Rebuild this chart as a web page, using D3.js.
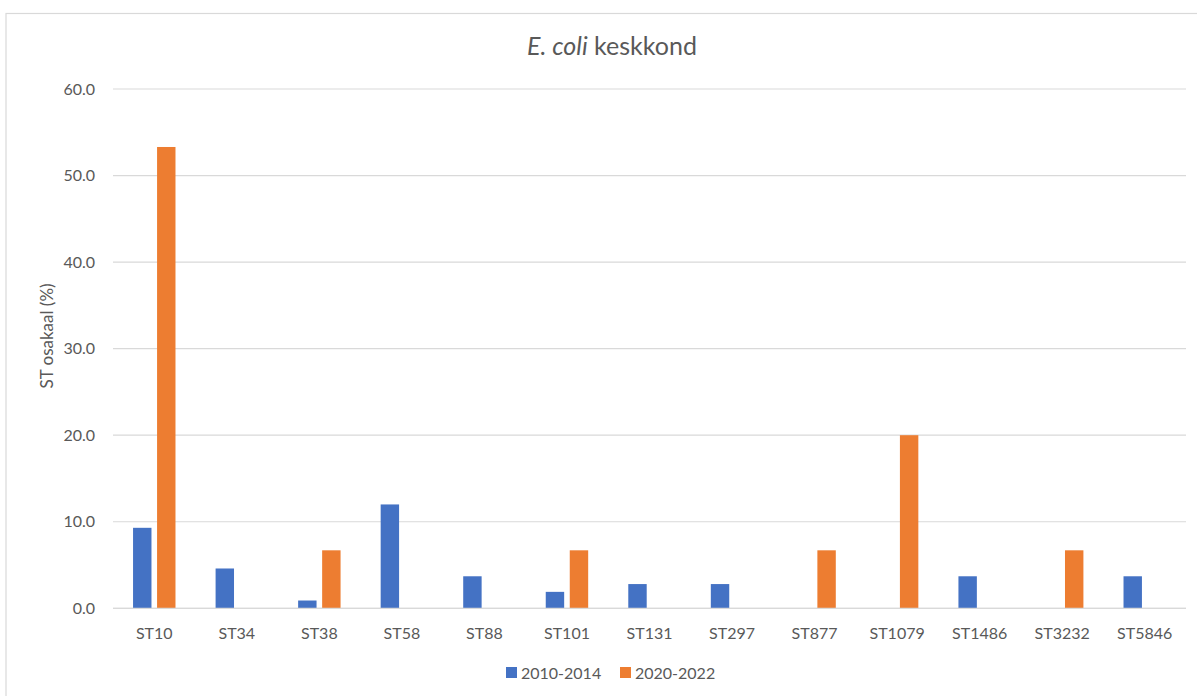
<!DOCTYPE html>
<html>
<head>
<meta charset="utf-8">
<script src="https://cdn.jsdelivr.net/npm/d3@7"></script>
<style>
  body { margin: 0; background: #fff; }
  text { font-family: Lato, "Open Sans", sans-serif; fill: #595959; }
</style>
</head>
<body>
<div id="chart"></div>
<script>
// Data
const categories = ["ST10", "ST34", "ST38", "ST58", "ST88", "ST101", "ST131",
    "ST297", "ST877", "ST1079", "ST1486", "ST3232", "ST5846"];
const seriesNames = ["2010-2014", "2020-2022"];
const values2010 = [9.3, 4.6, 0.9, 12.0, 3.7, 1.9, 2.8, 2.8, 0, 0, 3.7, 0, 3.7];
const values2020 = [53.3, 0, 6.7, 0, 0, 6.7, 0, 0, 6.7, 20.0, 0, 6.7, 0];
const yTicks = [0, 10, 20, 30, 40, 50, 60];
const colors = ["#4472C4", "#ED7D31"];

const W = 1197, H = 696;
const plot = {left: 113, right: 1186, top: 89, bottom: 608.3};

const svg = d3.select("#chart").append("svg")
    .attr("width", W)
    .attr("height", H);

// chart border
svg.append("rect")
    .attr("x", 6).attr("y", 13.5)
    .attr("width", W + 10).attr("height", H)
    .attr("fill", "#fff")
    .attr("stroke", "#d9d9d9")
    .attr("stroke-width", 1.2);

const x0 = d3.scaleBand()
    .domain(categories)
    .range([plot.left, plot.right]);

const x1 = d3.scaleBand()
    .domain(seriesNames)
    .range([0, x0.bandwidth()])
    .paddingInner(0.233)
    .paddingOuter(0.835);

const y = d3.scaleLinear()
    .domain([0, 60])
    .range([plot.bottom, plot.top]);

// gridlines
svg.append("g")
    .selectAll("line")
    .data(yTicks)
    .join("line")
    .attr("x1", plot.left).attr("x2", plot.right)
    .attr("y1", d => y(d)).attr("y2", d => y(d))
    .attr("stroke", "#d9d9d9")
    .attr("stroke-width", 1.2);

// y tick labels
svg.append("g")
    .selectAll("text")
    .data(yTicks)
    .join("text")
    .attr("x", 95)
    .attr("y", d => y(d))
    .attr("dy", "0.35em")
    .attr("text-anchor", "end")
    .style("font-size", "16px")
    .text(d3.format(".1f"));

// bars
const rows = categories.map((c, i) => ({cat: c, vals: [values2010[i], values2020[i]]}));
svg.append("g")
    .selectAll("g")
    .data(rows)
    .join("g")
    .attr("transform", d => `translate(${x0(d.cat)},0)`)
    .selectAll("rect")
    .data(d => d.vals.map((v, j) => ({series: seriesNames[j], value: v, j: j})).filter(e => e.value > 0))
    .join("rect")
    .attr("x", d => x1(d.series))
    .attr("width", x1.bandwidth())
    .attr("y", d => y(d.value))
    .attr("height", d => y(0) - y(d.value))
    .attr("fill", d => colors[d.j]);

// baseline redrawn over bars
svg.append("line")
    .attr("x1", plot.left).attr("x2", plot.right)
    .attr("y1", y(0)).attr("y2", y(0))
    .attr("stroke", "#d9d9d9")
    .attr("stroke-width", 1.2);

// x labels
svg.append("g")
    .selectAll("text")
    .data(categories)
    .join("text")
    .attr("x", d => x0(d) + x0.bandwidth() / 2)
    .attr("y", 639)
    .attr("text-anchor", "middle")
    .style("font-size", "16px")
    .text(d => d);

// title
const title = svg.append("text")
    .attr("x", 612)
    .attr("y", 55)
    .attr("text-anchor", "middle")
    .style("font-size", "25px");
title.append("tspan").style("font-style", "italic").text("E. coli");
title.append("tspan").text(" keskkond");

// y axis title
svg.append("text")
    .attr("transform", "translate(53,336) rotate(-90)")
    .attr("text-anchor", "middle")
    .style("font-size", "17px")
    .text("ST osakaal (%)");

// legend
const legendX = [506, 620];
const legend = svg.append("g")
    .selectAll("g")
    .data(seriesNames)
    .join("g")
    .attr("transform", (d, i) => `translate(${legendX[i]},667)`);
legend.append("rect")
    .attr("width", 11).attr("height", 11)
    .attr("fill", (d, i) => colors[i]);
legend.append("text")
    .attr("x", 15)
    .attr("y", 11.5)
    .style("font-size", "16px")
    .text(d => d);
</script>
</body>
</html>
